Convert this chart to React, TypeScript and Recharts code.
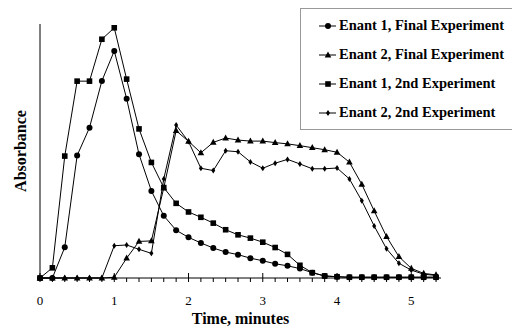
import React from 'react'
import { LineChart, Line, XAxis, YAxis } from 'recharts'

// time in seconds (one reading every 10 s)
const seconds = [
  0, 10, 20, 30, 40, 50, 60, 70, 80, 90, 100, 110, 120, 130, 140, 150, 160,
  170, 180, 190, 200, 210, 220, 230, 240, 250, 260, 270, 280, 290, 300, 310, 320
]
const enant1Final = [
  0, 0, 12.1, 48.2, 59.2, 77.6, 89.4, 70.6, 48.7, 34.3, 24.5, 18.8, 16, 13.8, 11.8, 10.2, 9.2,
  7.8, 6.8, 5.6, 4.8, 3.7, 2.1, 0.8, 0.5, 0.3, 0.3, 0.3, 0.3, 0.3, 0.3, 0.3, 0.3
]
const enant2Final = [
  0, 0, 0, 0, 0, 0, 0.3, 7.8, 14.4, 14.6, 35.5, 58, 53.8, 49.3, 53.4, 55.1, 54.3,
  53.9, 53.9, 53.3, 52.8, 52.1, 51.3, 50.5, 49.5, 45.6, 36.9, 26.4, 16.3, 8.4, 3.8, 1.8, 1.2
]
const enant1Second = [
  0, 4, 48, 77.5, 77.5, 94, 98.5, 78.3, 58.7, 45.5, 35.6, 29.4, 26, 23.9, 21.6, 19, 17,
  15.7, 14.1, 12, 9.3, 5, 2.1, 0.8, 0.5, 0.3, 0.3, 0.3, 0.3, 0.3, 0.3, 0.3, 0.3
]
const enant2Second = [
  0, 0, 0, 0, 0, 0, 12.7, 13, 11.3, 9.7, 39, 60.2, 53.7, 43.2, 42.3, 50.1, 49.7,
  45.7, 43.2, 45.2, 46.7, 44.9, 43, 43, 43.3, 39, 30.4, 20.5, 11.5, 5.8, 3.1, 1.5, 1.0
]
const seriesNames = [
  'Enant 1, Final Experiment',
  'Enant 2, Final Experiment',
  'Enant 1, 2nd Experiment',
  'Enant 2, 2nd Experiment'
]

const data = seconds.map((s, i) => ({
  s,
  a: enant1Final[i],
  b: enant2Final[i],
  c: enant1Second[i],
  d: enant2Second[i]
}))

const font = '"Liberation Serif", serif'

const Marker = ({ kind, cx, cy }: { kind: string; cx: number; cy: number }) => {
  if (kind === 'circle') return <circle cx={cx} cy={cy} r={3} fill="#000" />
  if (kind === 'square') return <rect x={cx - 2.8} y={cy - 2.8} width={5.6} height={5.6} fill="#000" />
  if (kind === 'triangle')
    return <polygon points={`${cx},${cy - 3.6} ${cx + 3.3},${cy + 2.4} ${cx - 3.3},${cy + 2.4}`} fill="#000" />
  return <polygon points={`${cx},${cy - 3} ${cx + 2},${cy} ${cx},${cy + 3} ${cx - 2},${cy}`} fill="#000" />
}

const kinds = ['circle', 'triangle', 'square', 'diamond']
const keys = ['a', 'b', 'c', 'd']

const dotFor = (kind: string) => (props: any) => (
  <Marker key={`${kind}-${props.index}`} kind={kind} cx={props.cx} cy={props.cy} />
)

const TimeTick = ({ x, y, payload }: any) => {
  const major = payload.value % 60 === 0
  return (
    <g>
      <line x1={x} x2={x} y1={major ? y - 5 : y} y2={y + 4} stroke="#000" />
      {major && (
        <text x={x} y={y + 27} textAnchor="middle" fontSize={13} fontFamily={font} fill="#000">
          {payload.value / 60}
        </text>
      )}
    </g>
  )
}

const App = () => {
  return (
    <div style={{ position: 'absolute', left: 0, top: 0, width: 512, height: 328, background: '#fff', overflow: 'hidden' }}>
      <LineChart width={512} height={328} data={data} margin={{ top: 24, right: 71, bottom: 0, left: 0 }}>
        <XAxis
          dataKey="s"
          type="number"
          domain={[0, 324]}
          ticks={seconds}
          interval={0}
          tickSize={0}
          tickMargin={0}
          tickLine={false}
          tick={<TimeTick />}
          height={50}
          axisLine={{ stroke: '#000' }}
          label={{
            value: 'Time, minutes',
            position: 'insideBottom',
            offset: 4,
            style: { fontFamily: font, fontWeight: 'bold', fontSize: 16, fill: '#000' }
          }}
        />
        <YAxis
          domain={[0, 100]}
          width={40}
          tick={false}
          tickLine={false}
          axisLine={{ stroke: '#000' }}
          label={{
            value: 'Absorbance',
            angle: -90,
            position: 'center',
            style: { fontFamily: font, fontWeight: 'bold', fontSize: 16, fill: '#000' }
          }}
        />
        {keys.map((k, i) => (
          <Line
            key={k}
            dataKey={k}
            name={seriesNames[i]}
            stroke="#000"
            strokeWidth={1}
            type="linear"
            dot={dotFor(kinds[i])}
            activeDot={false}
            isAnimationActive={false}
          />
        ))}
      </LineChart>
      <div
        style={{
          position: 'absolute',
          left: 300,
          top: 8,
          width: 220,
          height: 118,
          borderTop: '1px solid #999',
          borderLeft: '1px solid #999',
          borderBottom: '1px solid #999',
          paddingTop: 2,
          boxSizing: 'content-box',
          fontFamily: font,
          fontWeight: 'bold',
          fontSize: 14.5,
          color: '#000'
        }}
      >
        {seriesNames.map((n, i) => (
          <div key={n} style={{ height: 29, display: 'flex', alignItems: 'center', whiteSpace: 'nowrap' }}>
            <svg width={38} height={10} style={{ flex: 'none' }}>
              <line x1={18} x2={35} y1={5} y2={5} stroke="#000" />
              <Marker kind={kinds[i]} cx={27} cy={5} />
            </svg>
            <span>{n}</span>
          </div>
        ))}
      </div>
    </div>
  )
}

export default App
